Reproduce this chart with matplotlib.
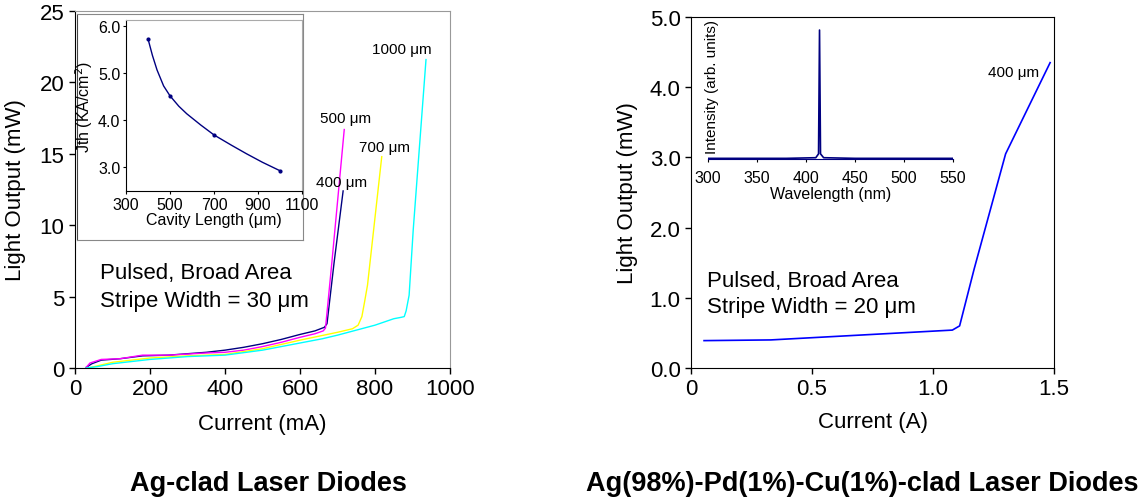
"""Light output vs current for Ag-clad and Ag-Pd-Cu-clad laser diodes"""
from matplotlib import pyplot as plt

plt.rcParams['font.family'] = ['Liberation Sans', 'DejaVu Sans']

# left panel: L-I curves for four cavity lengths (mA, mW)
i_400 = [30, 45, 70, 120, 180, 250, 350, 400, 450, 500, 550, 600, 640, 665, 672, 691, 715]
p_400 = [0.05, 0.3, 0.55, 0.65, 0.85, 0.9, 1.1, 1.25, 1.45, 1.7, 2.0, 2.35, 2.6, 2.85, 3.1, 7.4, 12.4]
i_500 = [30, 40, 70, 120, 180, 250, 350, 400, 450, 500, 550, 600, 640, 662, 668, 685, 718]
p_500 = [0.05, 0.35, 0.6, 0.65, 0.9, 0.9, 1.05, 1.1, 1.25, 1.5, 1.8, 2.15, 2.4, 2.6, 2.8, 7.4, 16.7]
i_700 = [35, 60, 100, 200, 300, 400, 500, 600, 700, 740, 755, 765, 772, 780, 818]
p_700 = [0.0, 0.15, 0.4, 0.7, 0.85, 0.95, 1.35, 1.95, 2.5, 2.75, 3.0, 3.6, 4.6, 5.8, 14.8]
i_1000 = [30, 60, 100, 200, 300, 400, 500, 600, 660, 700, 750, 800, 850, 870, 878, 883, 891, 902, 936]
p_1000 = [0.0, 0.1, 0.3, 0.6, 0.8, 0.9, 1.25, 1.75, 2.05, 2.3, 2.65, 3.0, 3.45, 3.55, 3.6, 4.0, 5.1, 9.7, 21.6]

# left inset: threshold current density vs cavity length
cav_len = [400, 500, 700, 1000]
cav_jth = [5.73, 4.52, 3.69, 2.93]
fit_len = [400, 420, 441, 471, 500, 540, 576, 640, 700, 780, 848, 920, 1000]
fit_jth = [5.73, 5.38, 5.07, 4.73, 4.52, 4.30, 4.14, 3.90, 3.69, 3.47, 3.29, 3.11, 2.93]

# right panel: L-I curve (A, mW)
i_r = [0.054, 0.33, 1.08, 1.11, 1.17, 1.30, 1.484]
p_r = [0.39, 0.40, 0.54, 0.60, 1.41, 3.05, 4.35]

# right inset: emission spectrum
wl = [300, 380, 410, 412.8, 413.8, 414.8, 418, 450, 550]
inten = [0.005, 0.005, 0.01, 0.04, 1.0, 0.04, 0.01, 0.005, 0.005]

W, H = 1144, 502


def box(x0, y0, x1, y1):
    """pixel box (top-left origin) to figure fraction rect"""
    return [x0 / W, 1 - y1 / H, (x1 - x0) / W, (y1 - y0) / H]


fig = plt.figure(figsize=(W / 100, H / 100), dpi=100)

# ---- left main axes
ax = fig.add_axes(box(75, 12, 450, 369))
ax.plot(i_400, p_400, color='#000080', lw=1)
ax.plot(i_500, p_500, color='#FF00FF', lw=1)
ax.plot(i_700, p_700, color='#FFFF00', lw=1)
ax.plot(i_1000, p_1000, color='#00FFFF', lw=1)
ax.set_xlim(0, 1000)
ax.set_ylim(0, 25)
ax.set_xticks([0, 200, 400, 600, 800, 1000])
ax.set_yticks([0, 5, 10, 15, 20, 25])
ax.tick_params(labelsize=16, length=4, width=1)
for s in ['top', 'right']:
    ax.spines[s].set_color('#999999')
ax.set_xlabel('Current (mA)', fontsize=16, labelpad=10)
ax.set_ylabel('Light Output (mW)', fontsize=16, labelpad=10)
ax.text(872, 22.35, '1000 \u03bcm', fontsize=11, ha='center', va='center')
ax.text(653, 17.5, '500 \u03bcm', fontsize=11, ha='left', va='center')
ax.text(757, 15.5, '700 \u03bcm', fontsize=11, ha='left', va='center')
ax.text(642, 13.0, '400 \u03bcm', fontsize=11, ha='left', va='center')
ax.text(67, 6.7, 'Pulsed, Broad Area', fontsize=16, va='center')
ax.text(67, 4.7, 'Stripe Width = 30 \u03bcm', fontsize=16, va='center')

# left inset frame + axes
frame = fig.add_axes(box(77, 15, 303, 241))
frame.set_xticks([])
frame.set_yticks([])
for s in frame.spines.values():
    s.set_color('#888888')
frame.spines['left'].set_color('#444444')

ins = fig.add_axes(box(126, 21, 302, 192))
ins.plot(fit_len, fit_jth, color='#000080', lw=1)
ins.plot(cav_len, cav_jth, 'o', color='#000080', ms=2)
ins.set_xlim(300, 1100)
ins.set_ylim(2.5, 6.13)
ins.set_xticks([300, 500, 700, 900, 1100])
ins.set_yticks([3.0, 4.0, 5.0, 6.0])
ins.set_yticklabels(['3.0', '4.0', '5.0', '6.0'])
ins.tick_params(labelsize=11.5, length=2, width=0.8, pad=2)
for s in ['top', 'right']:
    ins.spines[s].set_color('#aaaaaa')
ins.set_xlabel('Cavity Length (\u03bcm)', fontsize=11.5, labelpad=0)
ins.set_ylabel('Jth (KA/cm$^2$)', fontsize=11.5, labelpad=2)

# ---- right main axes
ax2 = fig.add_axes(box(691, 18, 1054, 369))
ax2.plot(i_r, p_r, color='#0000FF', lw=1.2)
ax2.set_xlim(0, 1.5)
ax2.set_ylim(0, 5.0)
ax2.set_xticks([0, 0.5, 1.0, 1.5])
ax2.set_xticklabels(['0', '0.5', '1.0', '1.5'])
ax2.set_yticks([0, 1, 2, 3, 4, 5])
ax2.set_yticklabels(['0.0', '1.0', '2.0', '3.0', '4.0', '5.0'])
ax2.tick_params(labelsize=16, length=4, width=1)
ax2.set_xlabel('Current (A)', fontsize=16, labelpad=8)
ax2.set_ylabel('Light Output (mW)', fontsize=16, labelpad=8)
ax2.text(1.227, 4.21, '400 \u03bcm', fontsize=11, va='center')
ax2.text(0.066, 1.25, 'Pulsed, Broad Area', fontsize=16, va='center')
ax2.text(0.066, 0.88, 'Stripe Width = 20 \u03bcm', fontsize=16, va='center')

# right inset spectrum
ins2 = fig.add_axes(box(708, 25, 953, 160))
ins2.patch.set_alpha(0)
ins2.plot(wl, inten, color='#000080', lw=1.2)
ins2.set_xlim(300, 550)
ins2.set_ylim(0, 1.047)
ins2.set_xticks([300, 350, 400, 450, 500, 550])
ins2.set_yticks([])
for s in ['top', 'right', 'left']:
    ins2.spines[s].set_visible(False)
ins2.spines['bottom'].set_color('#000080')
ins2.tick_params(labelsize=11.5, length=2, width=0.8, pad=6)
ins2.set_xlabel('Wavelength (nm)', fontsize=11.5, labelpad=1)
ins2.text(0.016, 0.544, 'Intensity (arb. units)', fontsize=11, rotation=90,
          ha='center', va='center', transform=ins2.transAxes)

fig.text(268 / W, 1 - 484 / H, 'Ag-clad Laser Diodes', fontsize=19.5,
         fontweight='bold', ha='center', va='center')
fig.text(862 / W, 1 - 484 / H, 'Ag(98%)-Pd(1%)-Cu(1%)-clad Laser Diodes',
         fontsize=19.5, fontweight='bold', ha='center', va='center')

fig.savefig('out.png', dpi=100)
